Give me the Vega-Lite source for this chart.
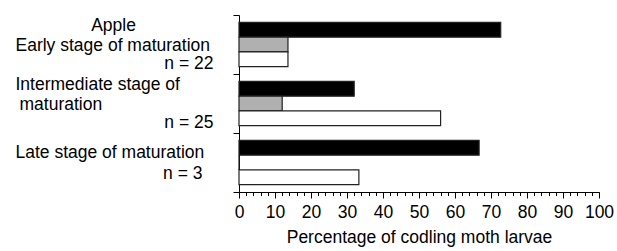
{
  "$schema": "https://vega.github.io/schema/vega-lite/v6.json",
  "width": 360,
  "height": 177,
  "autosize": "none",
  "padding": {"left": 239, "top": 15, "right": 18, "bottom": 59},
  "background": "white",
  "config": {
    "font": "Liberation Sans",
    "view": {"stroke": null},
    "axis": {"domainColor": "#000", "tickColor": "#000", "labelColor": "#000", "titleColor": "#000", "grid": false, "labelFontSize": 17.5, "labelLimit": 0, "labelOverlap": false, "labelBaseline": "alphabetic"},
    "axisY": {"title": null, "orient": "left"}
  },
  "data": {
    "values": [
      {"stage": "Early", "series": "Series 1", "pct": 72.7},
      {"stage": "Early", "series": "Series 2", "pct": 13.6},
      {"stage": "Early", "series": "Series 3", "pct": 13.6},
      {"stage": "Intermediate", "series": "Series 1", "pct": 32},
      {"stage": "Intermediate", "series": "Series 2", "pct": 12},
      {"stage": "Intermediate", "series": "Series 3", "pct": 56},
      {"stage": "Late", "series": "Series 1", "pct": 66.7},
      {"stage": "Late", "series": "Series 2", "pct": 0},
      {"stage": "Late", "series": "Series 3", "pct": 33.3}
    ]
  },
  "layer": [
    {
      "mark": {"type": "bar", "stroke": "#222", "strokeWidth": 1.2},
      "encoding": {
        "y": {
          "field": "stage",
          "type": "nominal",
          "sort": ["Early", "Intermediate", "Late"],
          "scale": {"paddingInner": 0, "paddingOuter": 0},
          "axis": {
            "orient": "left",
            "bandPosition": 0,
            "tickSize": 6,
            "labelAlign": "left",
            "labelPadding": 218,
            "labelOffset": -13.5,
            "labelExpr": "datum.value == 'Intermediate' ? 'Intermediate stage of' : ''"
          }
        },
        "yOffset": {
          "field": "series",
          "type": "nominal",
          "sort": ["Series 1", "Series 2", "Series 3"],
          "scale": {"paddingInner": 0, "paddingOuter": 0.5}
        },
        "x": {
          "field": "pct",
          "type": "quantitative",
          "scale": {"domain": [0, 100], "nice": false},
          "axis": {
            "orient": "bottom",
            "title": "Percentage of codling moth larvae",
            "values": [0, 10, 20, 30, 40, 50, 60, 70, 80, 90, 100],
            "tickSize": 6,
            "labelBaseline": "top",
            "labelPadding": 5,
            "labelFlush": false,
            "titleFontSize": 17.5,
            "titleFontWeight": "normal",
            "titlePadding": 8
          }
        },
        "fill": {
          "field": "series",
          "type": "nominal",
          "scale": {"domain": ["Series 1", "Series 2", "Series 3"], "range": ["#000000", "#b0b0b0", "#ffffff"]},
          "legend": null
        }
      }
    },
    {
      "mark": {"type": "point", "opacity": 0},
      "encoding": {
        "y": {
          "field": "stage",
          "type": "nominal",
          "sort": ["Early", "Intermediate", "Late"],
          "axis": {
            "orient": "left",
            "domain": false,
            "ticks": false,
            "tickSize": 0,
            "labelAlign": "left",
            "labelPadding": 224,
            "labelOffset": 6.5,
            "labelExpr": "datum.value == 'Early' ? 'Early stage of maturation' : ''"
          }
        }
      }
    },
    {
      "mark": {"type": "point", "opacity": 0},
      "encoding": {
        "y": {
          "field": "stage",
          "type": "nominal",
          "sort": ["Early", "Intermediate", "Late"],
          "axis": {
            "orient": "left",
            "domain": false,
            "ticks": false,
            "tickSize": 0,
            "labelAlign": "left",
            "labelPadding": 220,
            "labelOffset": 6.5,
            "labelExpr": "datum.value == 'Intermediate' ? 'maturation' : ''"
          }
        }
      }
    },
    {
      "mark": {"type": "point", "opacity": 0},
      "encoding": {
        "y": {
          "field": "stage",
          "type": "nominal",
          "sort": ["Early", "Intermediate", "Late"],
          "axis": {
            "orient": "left",
            "domain": false,
            "ticks": true,
            "values": ["Late"],
            "bandPosition": 1,
            "tickSize": 6,
            "labelAlign": "left",
            "labelPadding": 218,
            "labelOffset": -5,
            "labelExpr": "datum.value == 'Late' ? 'Late stage of maturation' : ''"
          }
        }
      }
    },
    {
      "mark": {"type": "point", "opacity": 0},
      "encoding": {
        "y": {
          "field": "stage",
          "type": "nominal",
          "sort": ["Early", "Intermediate", "Late"],
          "axis": {
            "orient": "left",
            "domain": false,
            "ticks": false,
            "tickSize": 0,
            "labelAlign": "right",
            "labelPadding": 26,
            "labelOffset": 24.5,
            "labelExpr": "datum.value == 'Early' ? 'n = 22' : datum.value == 'Intermediate' ? 'n = 25' : ''"
          }
        }
      }
    },
    {
      "mark": {"type": "point", "opacity": 0},
      "encoding": {
        "y": {
          "field": "stage",
          "type": "nominal",
          "sort": ["Early", "Intermediate", "Late"],
          "axis": {
            "orient": "left",
            "domain": false,
            "ticks": false,
            "tickSize": 0,
            "labelAlign": "right",
            "labelPadding": 37,
            "labelOffset": 16,
            "labelExpr": "datum.value == 'Late' ? 'n = 3' : ''"
          }
        }
      }
    },
    {
      "mark": {"type": "point", "opacity": 0},
      "encoding": {
        "y": {
          "field": "stage",
          "type": "nominal",
          "sort": ["Early", "Intermediate", "Late"],
          "axis": {
            "orient": "left",
            "domain": false,
            "ticks": false,
            "tickSize": 0,
            "labelAlign": "center",
            "labelPadding": 126,
            "labelOffset": -13.5,
            "labelExpr": "datum.value == 'Early' ? 'Apple' : ''"
          }
        }
      }
    },
    {
      "mark": {"type": "rule", "opacity": 0},
      "encoding": {
        "x": {
          "field": "pct",
          "type": "quantitative",
          "axis": {
            "orient": "bottom",
            "values": [0, 2, 4, 6, 8, 10, 12, 14, 16, 18, 20, 22, 24, 26, 28, 30, 32, 34, 36, 38, 40, 42, 44, 46, 48, 50, 52, 54, 56, 58, 60, 62, 64, 66, 68, 70, 72, 74, 76, 78, 80, 82, 84, 86, 88, 90, 92, 94, 96, 98, 100],
            "tickSize": 3.5,
            "labels": false,
            "domain": false,
            "title": null
          }
        }
      }
    }
  ],
  "resolve": {"axis": {"x": "independent", "y": "independent"}}
}
